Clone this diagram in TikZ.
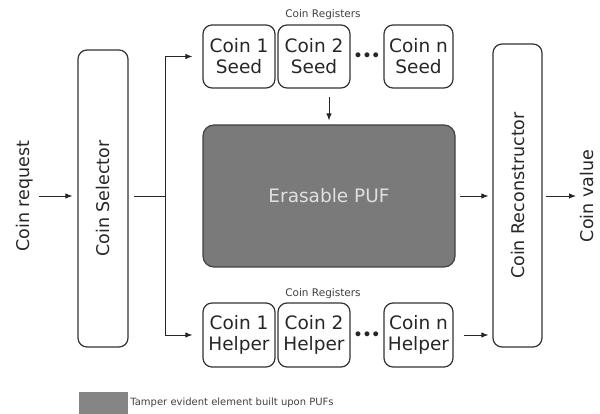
\documentclass[tikz,border=0pt]{standalone}
\usepackage{fontspec}
\setmainfont{DejaVu Sans}
\usetikzlibrary{arrows.meta}
\begin{document}
\begin{tikzpicture}[x=1pt,y=-1pt,
  box/.style={draw=black!80, line width=1.2pt, rounded corners=9pt, align=center, inner sep=0pt, text=black!85,
    font=\fontsize{18.5}{21}\selectfont},
  reg/.style={box, minimum width=72pt, minimum height=63pt},
  arr/.style={draw=black!85, line width=0.9pt, -{Latex[length=7pt,width=5.5pt]}},
  lbl/.style={text=black!85, font=\fontsize{17.5}{20}\selectfont, inner sep=0pt},
  small/.style={text=black!75, font=\fontsize{10.5}{12}\selectfont, inner sep=0pt},
  dots/.style={font=\fontsize{14}{14}\selectfont\bfseries, inner sep=0pt, text=black!85}]
\useasboundingbox (0,0) rectangle (600,414);
% main blocks
\node[box, minimum width=50pt, minimum height=297pt] (sel) at (103,198.5) {};
\node[lbl, rotate=90] at (sel.center) {Coin Selector};
\node[box, minimum width=49pt, minimum height=303pt] (rec) at (517.5,195.5) {};
\node[lbl, rotate=90] at (rec.center) {Coin Reconstructor};
\node[box, fill=black!52, draw=black!75, rounded corners=11pt, minimum width=252pt, minimum height=142pt, text=black!12] (puf) at (329,196) {Erasable PUF};
% registers
\node[reg] (s1) at (239,56.5) {Coin 1\\Seed};
\node[reg] (s2) at (314,56.5) {Coin 2\\Seed};
\node[reg, minimum width=69pt] (sn) at (418.5,56.5) {Coin n\\Seed};
\node[reg, minimum height=64pt] (h1) at (239,335) {Coin 1\\Helper};
\node[reg, minimum height=64pt] (h2) at (314,335) {Coin 2\\Helper};
\node[reg, minimum width=69pt, minimum height=64pt] (hn) at (418.5,335) {Coin n\\Helper};
\node[dots] (d1) at (367,57) {•••};
\node[dots] (d2) at (367,336) {•••};
\node[small] (rt) at (323,15) {Coin Registers};
\node[small] (rb) at (323,294) {Coin Registers};
% side labels
\node[lbl, rotate=90] (req) at (25,196) {Coin request};
\node[lbl, rotate=90] (val) at (587,196) {Coin value};
% connectors
\draw[arr, shorten <=5pt, shorten >=5pt] (req.south) -- (req.south -| sel.west);
\coordinate (split) at (165,196);
\draw[draw=black!85, line width=0.9pt, shorten <=5pt] (sel.east |- split) -- (split);
\draw[arr, shorten >=10pt] (split) |- (s1.west);
\draw[arr, shorten >=10pt] (split) |- (h1.west);
\draw[arr, shorten <=8pt, shorten >=4pt] (s2.south -| puf.north) -- (puf.north);
\draw[arr, shorten <=4pt, shorten >=4pt] (puf.east) -- (puf.east -| rec.west);
\draw[arr, shorten <=10pt, shorten >=4pt] (hn.east) -- (hn.east -| rec.west);
\draw[arr, shorten <=3pt, shorten >=4pt] (rec.east |- val.north) -- (val.north);
% legend
\node[fill=black!48, minimum width=49pt, minimum height=22pt, inner sep=0pt] (leg) at (103.5,403) {};
\node[small, anchor=west, font=\fontsize{10}{11}\selectfont] (legt) at ([xshift=2pt]leg.east) {Tamper evident element built upon PUFs};
\end{tikzpicture}
\end{document}
